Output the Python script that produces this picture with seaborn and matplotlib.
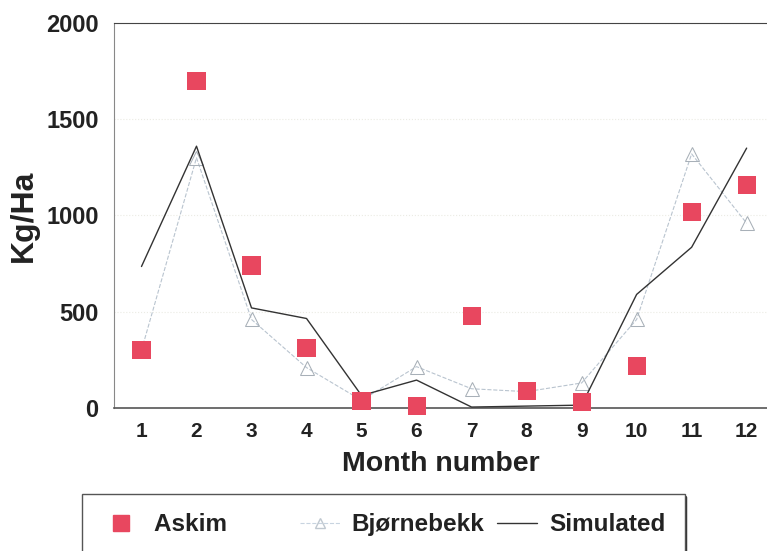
import numpy as np
import pandas as pd
import matplotlib.pyplot as plt
import seaborn as sns
from matplotlib.lines import Line2D

months = list(range(1, 13))
askim = [300, 1700, 740, 310, 35, 10, 480, 90, 30, 220, 1020, 1160]
bjornebekk = [300, 1300, 460, 210, 40, 215, 100, 85, 130, 460, 1320, 960]
simulated = [735, 1360, 520, 465, 65, 145, 5, 10, 15, 590, 835, 1350]
yticks = [0, 500, 1000, 1500, 2000]

df = pd.DataFrame({'month': months, 'Askim': askim,
                   'Bjornebekk': bjornebekk, 'Simulated': simulated})

sns.set_style('white')
plt.rcParams['font.family'] = ['Liberation Sans', 'DejaVu Sans']

red = '#e8475f'
light = '#b9c4cf'
dark = '#333333'

fig = plt.figure(figsize=(7.67, 5.51), dpi=100)
ax = fig.add_axes([0.1486, 0.2595, 0.8514, 0.6988])

sns.lineplot(data=df, x='month', y='Bjornebekk', ax=ax, color=light, lw=0.8,
             linestyle='--', marker='^', markersize=10,
             markerfacecolor='none', markeredgecolor='#a8b0b8', zorder=2)
sns.lineplot(data=df, x='month', y='Simulated', ax=ax, color=dark, lw=1.0, zorder=3)
sns.scatterplot(data=df, x='month', y='Askim', ax=ax, marker='s', s=170,
                color=red, edgecolor='none', zorder=5, clip_on=False)

ax.set_xlim(0.5, 12.37)
ax.set_ylim(0, 2000)
ax.set_xticks(months)
ax.set_yticks(yticks)
ax.set_xticklabels([str(m) for m in months], fontsize=15, fontweight='bold', color='#222')
ax.set_yticklabels([str(v) for v in yticks], fontsize=17, fontweight='bold', color='#222')
ax.tick_params(axis='y', length=0, pad=11)
ax.tick_params(axis='x', length=0, pad=10)
ax.set_xlabel('Month number', fontsize=20.5, fontweight='bold', color='#222', labelpad=7)
ax.set_ylabel('Kg/Ha', fontsize=23, fontweight='bold', color='#222', labelpad=5)

ax.yaxis.grid(True, ls=':', color='#ebebe4', lw=0.8)
ax.set_axisbelow(True)
ax.spines['right'].set_visible(False)
ax.spines['left'].set_color('#888888')
ax.spines['left'].set_linewidth(0.8)
ax.spines['top'].set_color('#444444')
ax.spines['bottom'].set_color('#555555')
ax.spines['bottom'].set_linewidth(1.2)

handles = [
    Line2D([], [], marker='s', ls='none', color=red, markersize=11),
    Line2D([], [], marker='^', ls='--', color='#c8d4e0', lw=0.8, markersize=7,
           markerfacecolor='none', markeredgecolor='#c0c8d0'),
    Line2D([], [], color=dark, lw=1.0),
]
labels = ['Askim' + ' ' * 9, 'Bjørnebekk', 'Simulated']
leg = fig.legend(handles, labels, loc='upper left',
                 bbox_to_anchor=(82 / 767, 1 - 494 / 551), ncol=3,
                 prop={'weight': 'bold', 'size': 17.5}, frameon=True,
                 fancybox=False, edgecolor='#555555', framealpha=1,
                 borderpad=0.8, borderaxespad=0, handlelength=1.65,
                 handletextpad=0.5, columnspacing=0.5, labelcolor='#222')
leg.get_frame().set_linewidth(1.0)

fig.canvas.draw()
bb = leg.get_window_extent().transformed(fig.transFigure.inverted())
fig.add_artist(Line2D([bb.x1, bb.x1], [0, bb.y1 - 0.005], color='#333333', lw=2.5,
                      transform=fig.transFigure))

fig.savefig('out.png', dpi=100)
